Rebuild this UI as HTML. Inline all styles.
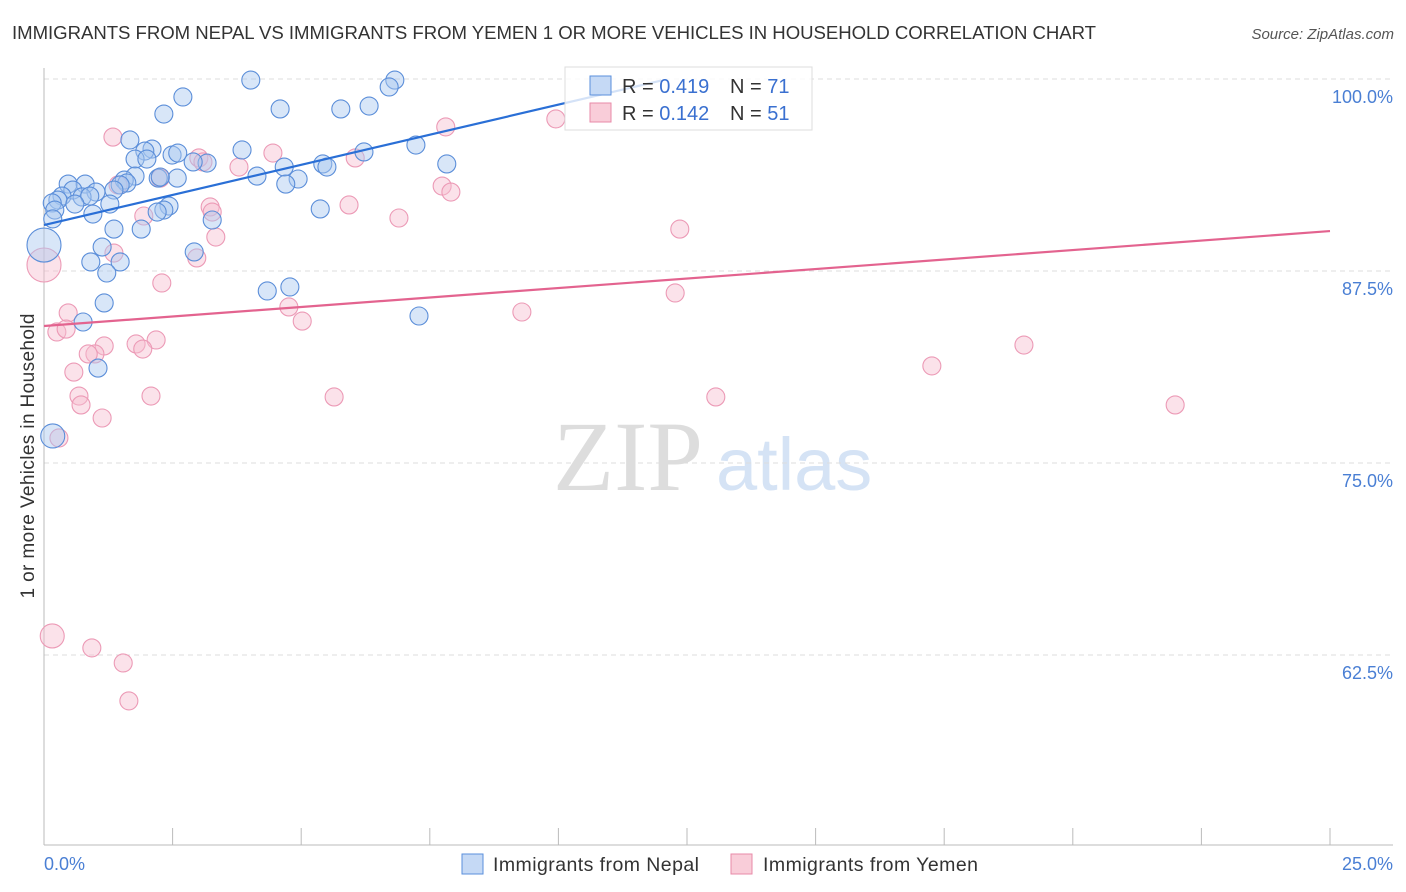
<!DOCTYPE html>
<html><head><meta charset="utf-8"><style>
body{margin:0;background:#fff;font-family:"Liberation Sans",sans-serif}
svg{display:block}
</style></head><body>
<svg width="1406" height="892">
<text x="12" y="39" font-size="18.6" fill="#333" textLength="1084">IMMIGRANTS FROM NEPAL VS IMMIGRANTS FROM YEMEN 1 OR MORE VEHICLES IN HOUSEHOLD CORRELATION CHART</text>
<text x="1394" y="39" font-size="15" fill="#555" font-style="italic" text-anchor="end">Source: ZipAtlas.com</text>
<g><text x="553" y="490" font-size="100" font-family="Liberation Serif" fill="#ddd">ZIP</text><text x="716" y="490" font-size="74" fill="#d5e3f5">atlas</text></g>
<g id="grid"></g>
<line x1="44" y1="68" x2="44" y2="845" stroke="#bbb"/>
<line x1="44" y1="845" x2="1393" y2="845" stroke="#bbb"/>
<g id="xticks"></g>
<text transform="translate(34,456) rotate(-90)" font-size="19" fill="#333" text-anchor="middle" textLength="285">1 or more Vehicles in Household</text>
<text x="44" y="870" font-size="18" fill="#4a7fd4">0.0%</text>
<text x="1393" y="870" font-size="18" fill="#4a7fd4" text-anchor="end">25.0%</text>
<g id="pts"></g>
<g id="trends"></g>
<g>
<rect x="565" y="67" width="247" height="63" fill="#fff" fill-opacity="0.8" stroke="#ddd"/>
<rect x="590" y="76" width="21" height="19" fill="#c5d9f5" stroke="#5a8fdc"/>
<rect x="590" y="103" width="21" height="19" fill="#f9cdd9" stroke="#e88aa8"/>
<text x="622" y="93" font-size="20" fill="#333">R = <tspan fill="#3a70d0">0.419</tspan></text>
<text x="730" y="93" font-size="20" fill="#333">N = <tspan fill="#3a70d0">71</tspan></text>
<text x="622" y="120" font-size="20" fill="#333">R = <tspan fill="#3a70d0">0.142</tspan></text>
<text x="730" y="120" font-size="20" fill="#333">N = <tspan fill="#3a70d0">51</tspan></text>
</g>
<g>
<rect x="462" y="854" width="21" height="20" fill="#c5d9f5" stroke="#5a8fdc"/>
<text x="493" y="871" font-size="19.5" fill="#333" textLength="206">Immigrants from Nepal</text>
<rect x="731" y="854" width="21" height="20" fill="#f9cdd9" stroke="#e88aa8"/>
<text x="763" y="871" font-size="19.5" fill="#333" textLength="215">Immigrants from Yemen</text>
</g>
</svg>
<script>
const yTicks=[100,87.5,75,62.5];
const yTickLabels=["100.0%","87.5%","75.0%","62.5%"];
const xTickVals=[0,2.5,5,7.5,10,12.5,15,17.5,20,22.5,25];
const nepalX=[4.02,6.82,6.71,2.70,2.33,4.59,5.77,6.32,1.67,3.85,2.10,1.96,1.77,2.49,2.60,2.00,3.17,4.67,5.42,5.50,6.22,7.23,7.83,4.14,4.94,4.70,2.59,2.22,1.77,1.56,1.61,1.48,1.36,0.47,0.80,0.56,1.01,0.35,0.74,0.89,0.27,0.16,0.21,0.60,1.28,0.95,0.17,2.43,2.33,2.20,3.27,5.37,1.89,1.36,1.13,2.92,0.91,1.48,1.22,4.34,4.78,1.17,0.76,7.29,1.05,2.26,2.90,0.0,0.17];
const nepalY=[99.93,99.93,99.48,98.83,97.72,98.05,98.05,98.24,96.03,95.38,95.44,95.31,94.79,95.05,95.18,94.79,94.53,94.27,94.47,94.27,95.25,95.70,94.47,93.68,93.49,93.16,93.55,93.55,93.68,93.42,93.23,93.10,92.77,93.16,93.16,92.77,92.64,92.38,92.32,92.38,92.12,91.93,91.47,91.86,91.86,91.21,90.89,91.73,91.47,91.34,90.82,91.54,90.23,90.23,89.06,88.74,88.09,88.09,87.37,86.20,86.46,85.42,84.18,84.57,81.18,93.62,94.60,89.19,76.76];
const nepalR=[9,9,9,9,9,9,9,9,9,9,9,9,9,9,9,9,9,9,9,9,9,9,9,9,9,9,9,9,9,9,9,9,9,9,9,9,9,9,9,9,9,9,9,9,9,9,9,9,9,9,9,9,9,9,9,9,9,9,9,9,9,9,9,9,9,9,9,17,12];
const yemenX=[1.34,4.45,3.01,3.09,3.79,6.05,2.26,1.44,7.74,7.91,3.23,3.27,5.93,6.90,1.94,12.36,3.34,1.36,2.97,2.29,12.27,4.76,9.29,0.47,0.25,0.43,5.02,2.18,1.79,1.92,1.17,0.99,0.86,0.58,17.26,19.05,0.68,2.08,5.64,13.06,21.99,0.72,1.13,0.29,0.16,0.93,1.54,1.65,7.81,9.95,0.0];
const yemenY=[96.22,95.18,94.86,94.60,94.27,94.86,93.55,93.10,93.03,92.64,91.67,91.34,91.80,90.95,91.08,90.23,89.71,88.67,88.35,86.72,86.07,85.16,84.83,84.77,83.53,83.72,84.24,83.01,82.75,82.42,82.62,82.10,82.10,80.92,81.32,82.68,79.36,79.36,79.30,79.30,78.78,78.78,77.93,76.63,63.74,62.96,61.98,59.51,96.88,97.40,87.89];
const yemenR=[9,9,9,9,9,9,9,9,9,9,9,9,9,9,9,9,9,9,9,9,9,9,9,9,9,9,9,9,9,9,9,9,9,9,9,9,9,9,9,9,9,9,9,9,12,9,9,9,9,9,17];
const nepalTrend=[[0,90.49],[12,99.9]];
const yemenTrend=[[0,83.92],[25,90.10]];
const NS="http://www.w3.org/2000/svg";
const xs=v=>44+v/25*1286;
const ys=v=>79+(100-v)*15.36;
function mk(t,a,p){const e=document.createElementNS(NS,t);for(const k in a)e.setAttribute(k,a[k]);p.appendChild(e);return e;}
const grid=document.getElementById('grid');
yTicks.forEach((v,i)=>{
const l=mk('line',{x1:44,x2:1393,y1:ys(v),y2:ys(v),stroke:'#ddd','stroke-dasharray':'5,4'},grid);


const t=mk('text',{x:1393,y:ys(v)+24,'font-size':18,fill:'#4a7fd4','text-anchor':'end'},grid);
t.textContent=yTickLabels[i];


});
const xt=document.getElementById('xticks');
xTickVals.forEach(v=>{
const l=mk('line',{x1:xs(v),x2:xs(v),y1:828,y2:845,stroke:'#bbb'},xt);


});
const pts=document.getElementById('pts');
yemenX.forEach((x,i)=>{
const c=mk('circle',{cx:xs(x),cy:ys(yemenY[i]),r:yemenR[i],fill:'#f7bfd0','fill-opacity':0.45,stroke:'#ec9ab6','stroke-width':1.1},pts);


});
nepalX.forEach((x,i)=>{
const c=mk('circle',{cx:xs(x),cy:ys(nepalY[i]),r:nepalR[i],fill:'#a9c8f0','fill-opacity':0.45,stroke:'#5b8ed9','stroke-width':1.1},pts);


});
const tr=document.getElementById('trends');
const b=mk('line',{x1:xs(nepalTrend[0][0]),y1:ys(nepalTrend[0][1]),x2:xs(nepalTrend[1][0]),y2:ys(nepalTrend[1][1]),stroke:'#2a6fd6','stroke-width':2.2},tr);


const p=mk('line',{x1:xs(yemenTrend[0][0]),y1:ys(yemenTrend[0][1]),x2:xs(yemenTrend[1][0]),y2:ys(yemenTrend[1][1]),stroke:'#e3638f','stroke-width':2.2},tr);


</script>
</body></html>
